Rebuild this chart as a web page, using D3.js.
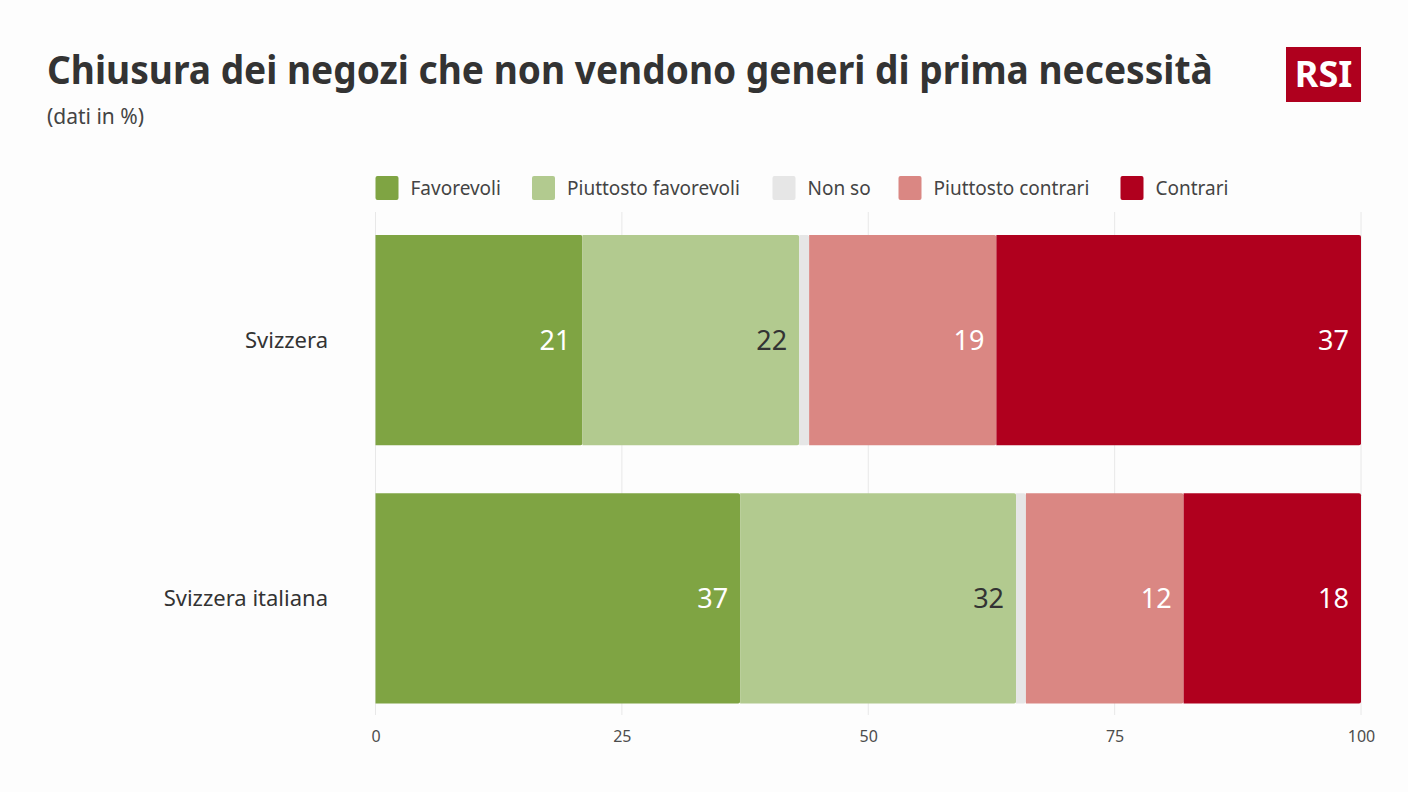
<!DOCTYPE html>
<html>
<head>
<meta charset="utf-8">
<script src="https://cdn.jsdelivr.net/npm/d3@7"></script>
<style>
  html, body { margin: 0; padding: 0; background: #fdfdfd; }
  svg { display: block; font-family: "Noto Sans", sans-serif; }
</style>
</head>
<body>
<div id="chart"></div>
<script>
const categories = ['Svizzera', 'Svizzera italiana'];
const seriesNames = ['Favorevoli', 'Piuttosto favorevoli', 'Non so', 'Piuttosto contrari', 'Contrari'];
const seriesColors = ['#7fa443', '#b2ca8f', '#e6e6e6', '#da8783', '#b0001e'];
const labelColors = ['#ffffff', '#333333', null, '#ffffff', '#ffffff'];

// bar lengths as measured on the picture
const favorevoli = [21, 37];
const piuttostoFavorevoli = [22, 28];
const nonSo = [1, 1];
const piuttostoContrari = [19, 16];
const contrari = [37, 18];

// printed labels: the picture shows 32 and 12 on bars that measure 28 and 16
const labelsFavorevoli = [21, 37];
const labelsPiuttostoFavorevoli = [22, 32];
const labelsPiuttostoContrari = [19, 12];
const labelsContrari = [37, 18];

const tickValues = [0, 25, 50, 75, 100];

const seriesValues = [favorevoli, piuttostoFavorevoli, nonSo, piuttostoContrari, contrari];
const seriesLabels = [labelsFavorevoli, labelsPiuttostoFavorevoli, null, labelsPiuttostoContrari, labelsContrari];

const width = 1408, height = 792;
const svg = d3.select('#chart').append('svg')
    .attr('width', width)
    .attr('height', height);

svg.append('rect').attr('width', width).attr('height', height).attr('fill', '#fdfdfd');

// Title block, squeezed horizontally to the reference width
const title = svg.append('text')
    .attr('font-size', 40).attr('font-weight', 700).attr('fill', '#333333')
    .text('Chiusura dei negozi che non vendono generi di prima necessità');
const titleScale = 1166 / title.node().getComputedTextLength();
title.attr('transform', `translate(47,84) scale(${titleScale},1)`);

svg.append('text')
    .attr('x', 47).attr('y', 124)
    .attr('font-size', 21).attr('fill', '#444444')
    .text('(dati in %)');

// Logo
svg.append('rect')
    .attr('x', 1286).attr('y', 47).attr('width', 75).attr('height', 55)
    .attr('fill', '#af001e');
svg.append('text')
    .attr('x', 1323.5).attr('y', 87)
    .attr('text-anchor', 'middle')
    .attr('font-size', 36).attr('font-weight', 700).attr('fill', '#ffffff')
    .text('RSI');

// Scales
const x = d3.scaleLinear().domain([0, 100]).range([375.5, 1361]);
const y = d3.scaleBand().domain(categories).range([235, 703.5]).paddingInner(48 / 258);

// Grid
svg.append('g')
    .selectAll('line')
    .data(tickValues)
    .enter().append('line')
    .attr('x1', d => x(d)).attr('x2', d => x(d))
    .attr('y1', 212).attr('y2', 715)
    .attr('stroke', '#e8e8e8').attr('stroke-width', 1);

// Axis
const axis = svg.append('g')
    .attr('transform', 'translate(0,715)')
    .call(d3.axisBottom(x).tickValues(tickValues).tickSize(0).tickPadding(14));
axis.select('.domain').remove();
axis.selectAll('text')
    .attr('font-family', '"Noto Sans", sans-serif')
    .attr('font-size', 16)
    .attr('dy', '0.8em')
    .attr('fill', '#4d4d4d');

// Stacked bars
const rows = categories.map((c, i) => {
    const row = { category: c };
    seriesNames.forEach((s, j) => { row[s] = seriesValues[j][i]; });
    return row;
});
const stacked = d3.stack().keys(seriesNames)(rows);

function rightRounded(x0, x1, y0, h, r) {
    return `M${x0},${y0}H${x1 - r}Q${x1},${y0} ${x1},${y0 + r}V${y0 + h - r}Q${x1},${y0 + h} ${x1 - r},${y0 + h}H${x0}Z`;
}

stacked.forEach((layer, j) => {
    const g = svg.append('g');
    g.selectAll('path')
        .data(layer)
        .enter().append('path')
        .attr('d', d => rightRounded(x(d[0]), x(d[1]), y(d.data.category), y.bandwidth(), 2))
        .attr('fill', seriesColors[j]);
    if (seriesLabels[j]) {
        g.selectAll('text')
            .data(layer)
            .enter().append('text')
            .attr('x', d => x(d[1]) - 12)
            .attr('y', d => y(d.data.category) + y.bandwidth() / 2 + 0.5)
            .attr('dy', '0.35em')
            .attr('text-anchor', 'end')
            .attr('font-size', 27)
            .attr('fill', labelColors[j])
            .text((d, i) => seriesLabels[j][i]);
    }
});

// Category labels
svg.append('g')
    .selectAll('text')
    .data(categories)
    .enter().append('text')
    .attr('x', 328)
    .attr('y', d => y(d) + y.bandwidth() / 2)
    .attr('dy', '0.35em')
    .attr('text-anchor', 'end')
    .attr('font-size', 22)
    .attr('fill', '#333333')
    .text(d => d);

// Legend
const legendX = [375.5, 532, 772.5, 898.5, 1120.5];
const legend = svg.append('g')
    .selectAll('g')
    .data(seriesNames)
    .enter().append('g')
    .attr('transform', (d, i) => `translate(${legendX[i]},176)`);
legend.append('rect')
    .attr('width', 23).attr('height', 24).attr('rx', 2)
    .attr('fill', (d, i) => seriesColors[i]);
legend.append('text')
    .attr('x', 35).attr('y', 12)
    .attr('dy', '0.35em')
    .attr('font-size', 19)
    .attr('fill', '#444444')
    .text(d => d);
</script>
</body>
</html>
